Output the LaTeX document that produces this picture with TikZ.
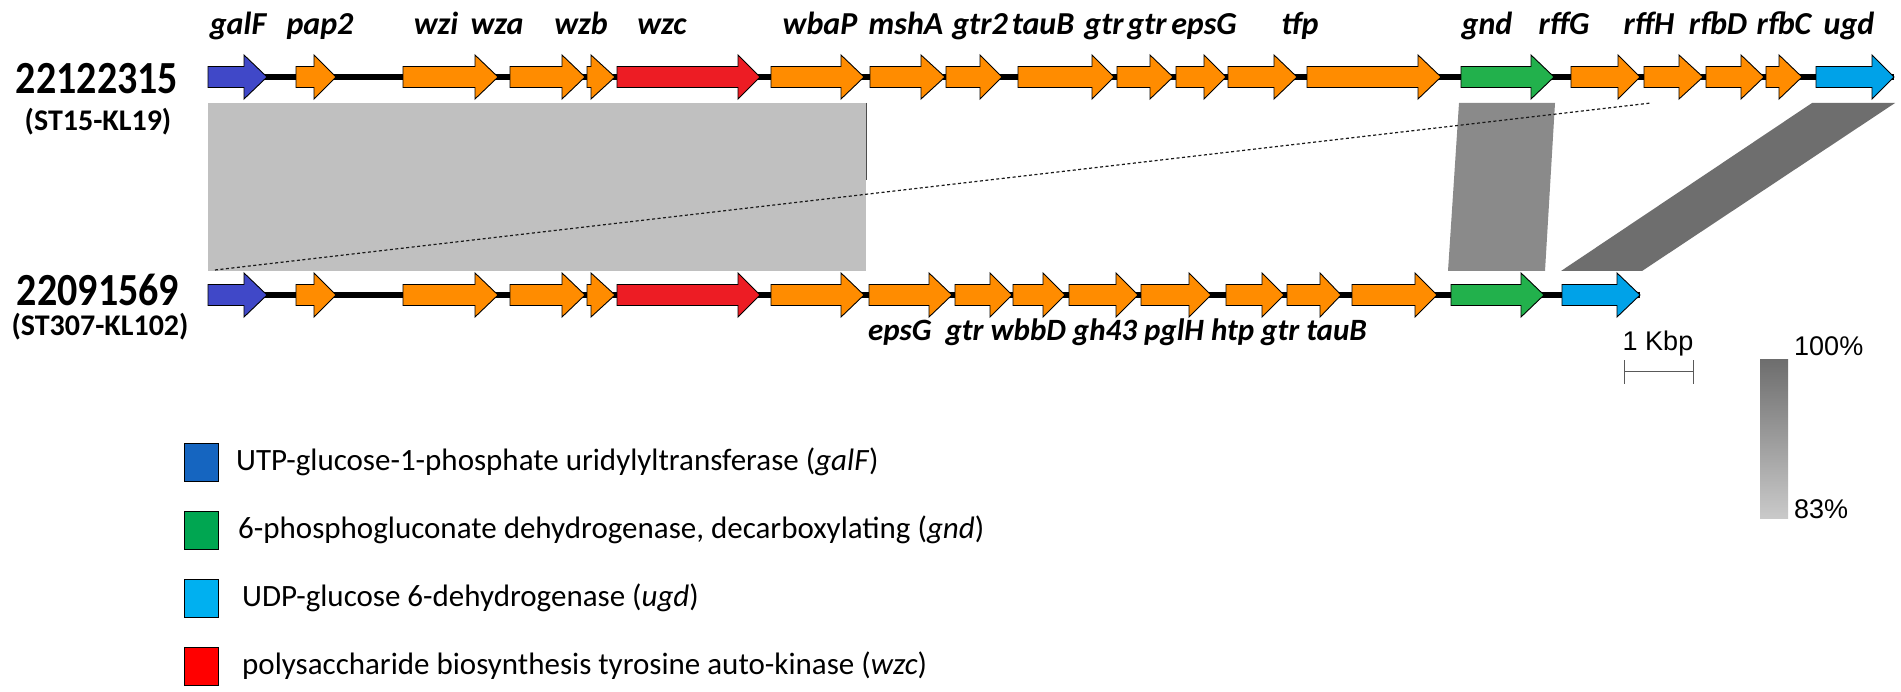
\documentclass[tikz,border=0pt]{standalone}
\usepackage{fontspec}
\setmainfont{Carlito}
\newfontfamily\helv{Liberation Sans}
\definecolor{galfblue}{RGB}{64,72,200}
\definecolor{orangeg}{RGB}{255,140,0}
\definecolor{redg}{RGB}{237,28,36}
\definecolor{greeng}{RGB}{34,177,76}
\definecolor{ugdblue}{RGB}{0,162,232}
\definecolor{lgray}{RGB}{192,192,192}
\definecolor{mgray}{RGB}{138,138,138}
\definecolor{dgray}{RGB}{110,110,110}
\definecolor{legblue}{RGB}{21,101,192}
\definecolor{leggreen}{RGB}{0,166,81}
\definecolor{legcyan}{RGB}{0,176,240}
\definecolor{legred}{RGB}{255,0,0}
\newcommand\genearrow[5]{%
  \filldraw[genebox,fill=#5] (#1,#4-10.5) -- (#2,#4-10.5) -- (#2,#4-22) -- (#3,#4) -- (#2,#4+22) -- (#2,#4+10.5) -- (#1,#4+10.5) -- cycle;}
\begin{document}
\begin{tikzpicture}[x=1pt,y=-1pt,
  genebox/.style={draw=black,line width=0.9pt,line join=miter},
  backbone/.style={line width=6pt,black},
  glabel/.style={font=\fontsize{32}{34}\selectfont\bfseries\itshape,inner sep=0pt,anchor=base},
  idlabel/.style={font=\fontsize{40}{42}\selectfont\bfseries,inner sep=0pt},
  stlabel/.style={font=\fontsize{30}{32}\selectfont\bfseries,inner sep=0pt},
  legtext/.style={font=\fontsize{31}{33}\selectfont,inner sep=0pt,anchor=west},
  legbox/.style={draw=black,line width=1pt,minimum width=34pt,minimum height=38pt,inner sep=0pt},
  scaletext/.style={font=\helv\fontsize{27}{29}\selectfont,inner sep=0pt}]
\useasboundingbox (0,0) rectangle (1901,692);
\fill[white] (0,0) rectangle (1901,692);
% similarity blocks
\fill[lgray] (208,103) rectangle (866,271);
\draw[gray!60!black,line width=0.8pt] (866,103) -- (866,180);
\fill[mgray] (1459,103) -- (1555,103) -- (1545,271) -- (1448,271) -- cycle;
\fill[dgray] (1812,103) -- (1895,103) -- (1642,271) -- (1561,271) -- cycle;
\coordinate (dashA) at (215,270);
\coordinate (dashB) at (1651,103);
\draw[gray!20!black,line width=1.2pt,dash pattern=on 3pt off 2.5pt] (dashA) -- (dashB);
% backbones
\draw[backbone] (208,77) -- (1894,77);
\draw[backbone] (208,295) -- (1640,295);
% top row genes
\genearrow{208}{244}{267}{77}{galfblue}
\foreach \a/\b/\c in {296/314/336,403/475/498,510/562/585,587/591/615,771/841/864,870/921/945,946/980/1002,1018/1092/1114,1117/1150/1173,1176/1204/1226,1228/1274/1297,1307/1418/1441,1571/1618/1640,1644/1679/1703,1706/1741/1764,1766/1779/1802}
  {\genearrow{\a}{\b}{\c}{77}{orangeg}}
\genearrow{617}{738}{760}{77}{redg}
\genearrow{1461}{1531}{1554}{77}{greeng}
\genearrow{1816}{1872}{1894}{77}{ugdblue}
% bottom row genes
\genearrow{208}{244}{267}{295}{galfblue}
\foreach \a/\b/\c in {296/314/336,403/475/498,510/562/585,587/591/615,771/841/864,869/929/952,955/990/1012,1013/1043/1065,1069/1116/1138,1141/1189/1211,1226/1262/1284,1287/1320/1341,1352/1415/1437}
  {\genearrow{\a}{\b}{\c}{295}{orangeg}}
\genearrow{617}{738}{760}{295}{redg}
\genearrow{1451}{1521}{1544}{295}{greeng}
\genearrow{1562}{1617}{1640}{295}{ugdblue}
% top labels
\foreach \n/\x/\t in {t1/238/galF,t2/320/pap2,t3/436/wzi,t4/497/wza,t5/581/wzb,t6/662/wzc,t7/820/wbaP,t8/906/mshA,t9/980/gtr2,t10/1043/tauB,t11/1104/gtr,t12/1147/gtr,t13/1204/epsG,t14/1300/tfp,t15/1487/gnd,t16/1564/rffG,t17/1649/rffH,t18/1718/rfbD,t19/1784/rfbC,t20/1849/ugd}
  {\node[glabel] (\n) at (\x,35) {\t};}
% bottom labels
\node[glabel,anchor=base west,font=\fontsize{31}{33}\selectfont\bfseries\itshape] (blabels) at (868,341) {epsG\hspace{0.45em}gtr wbbD gh43 pglH htp gtr tauB};
% strain ids
\node[idlabel] (id1) at (97,79) {\scalebox{1}[1.15]{22122315}};
\node[stlabel] (st1) at (98,122) {(ST15-KL19)};
\node[idlabel] (id2) at (98,290) {\scalebox{1}[1.15]{22091569}};
\node[stlabel] (st2) at (100,327) {(ST307-KL102)};
% scale bar
\node[scaletext] (kbp) at (1658,344) {1 Kbp};
\coordinate (sbL) at (1624,372);
\coordinate (sbR) at (1693,372);
\draw[gray!70!black,line width=1pt] (sbL) -- (sbR);
\draw[gray!70!black,line width=1pt] ([yshift=-12pt]sbL) -- ([yshift=12pt]sbL);
\draw[gray!70!black,line width=1pt] ([yshift=-12pt]sbR) -- ([yshift=12pt]sbR);
% gradient
\shade[top color=dgray,bottom color=lgray!85!white] (1760,360) rectangle (1788,518);
\node[scaletext,anchor=west] (p100) at (1794,346) {100\%};
\node[scaletext,anchor=west] (p83) at (1794,509) {83\%};
% legend
\node[legbox,fill=legblue] (lb1) at (201,462) {};
\node[legtext] (lt1) at (236,462) {UTP-glucose-1-phosphate uridylyltransferase (\textit{galF})};
\node[legbox,fill=leggreen] (lb2) at (201,530) {};
\node[legtext] (lt2) at (238,530) {6-phosphogluconate dehydrogenase, decarboxylating (\textit{gnd})};
\node[legbox,fill=legcyan] (lb3) at (201,598) {};
\node[legtext] (lt3) at (242,598) {UDP-glucose 6-dehydrogenase (\textit{ugd})};
\node[legbox,fill=legred] (lb4) at (201,666) {};
\node[legtext] (lt4) at (242,666) {polysaccharide biosynthesis tyrosine auto-kinase (\textit{wzc})};
\end{tikzpicture}
\end{document}
